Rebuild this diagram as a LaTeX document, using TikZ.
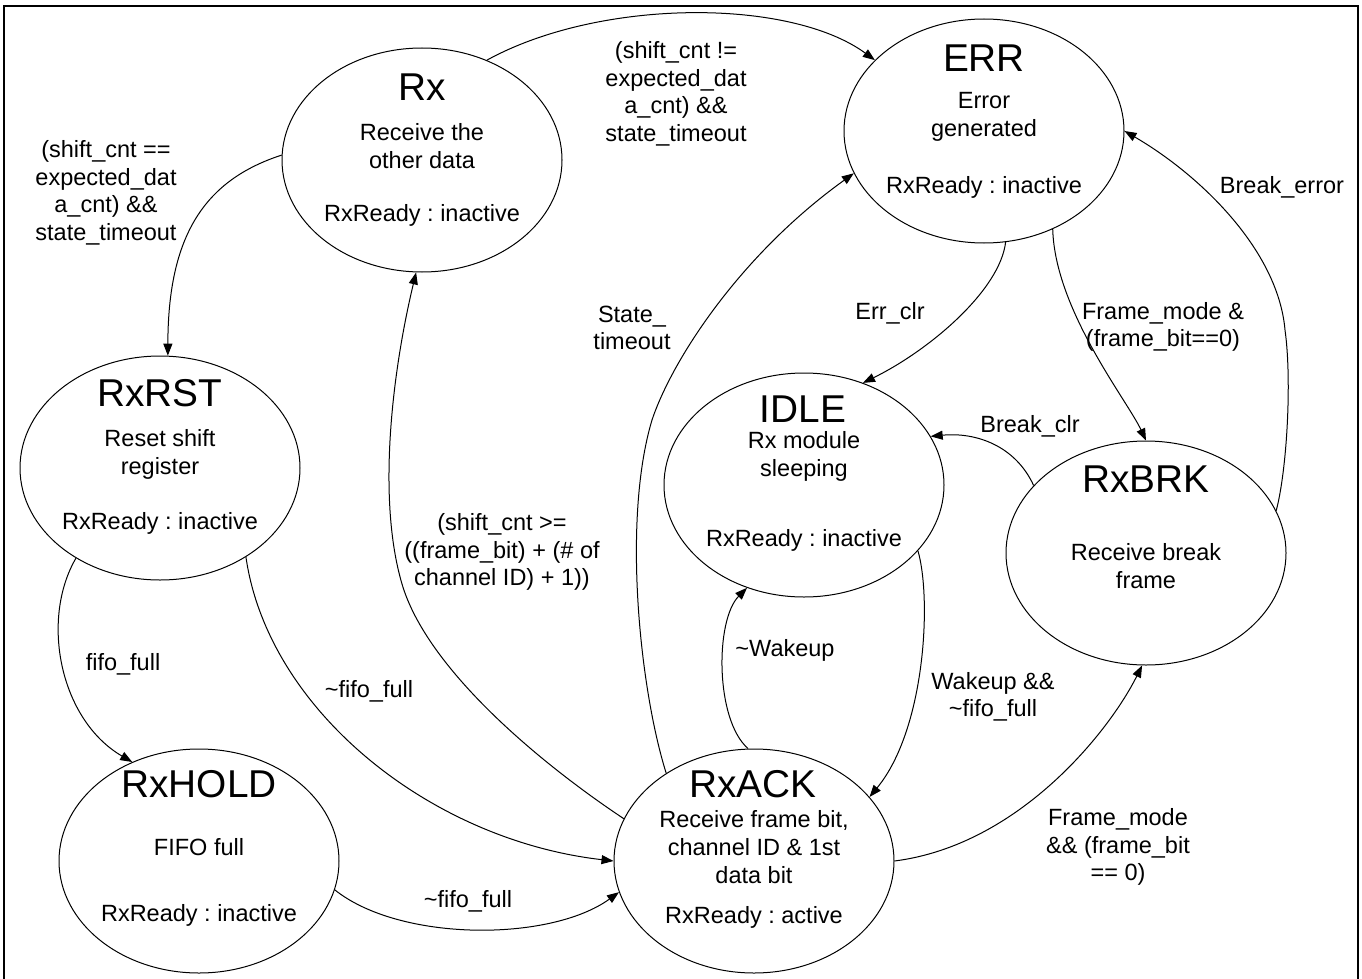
\documentclass[tikz,border=0pt]{standalone}
\usepackage{fontspec}
\setmainfont{Liberation Sans}
\usetikzlibrary{shapes.geometric,arrows.meta}
\frenchspacing
\begin{document}
\begin{tikzpicture}[x=1pt,y=-1pt,
  state/.style={ellipse,draw,line width=1pt,minimum width=280pt,minimum height=224pt,inner sep=0pt},
  ttl/.style={font=\fontsize{38.8}{46}\selectfont,inner sep=0pt},
  txt/.style={font=\fontsize{23.5}{28}\selectfont,align=center,inner sep=0pt},
  lbl/.style={font=\fontsize{23.5}{27.5}\selectfont,align=center,inner sep=0pt},
  arr/.style={line width=1pt,-{Triangle[length=12pt,width=9pt]}}]
\useasboundingbox (0,0) rectangle (1362,979);
\draw[line width=2pt] (4,985) -- (4,6) -- (1358,6) -- (1358,985);

% states
\node[state] (Rx) at (422,160) {};
\node[ttl] (RxT) at (422,87) {Rx};
\node[txt] (RxD) at (422,146) {Receive the\\other data};
\node[txt] (RxR) at (422,215) {RxReady : inactive};

\node[state] (ERR) at (984,131) {};
\node[ttl] (ERRT) at (984,58) {ERR};
\node[txt] (ERRD) at (984,117) {Error\\generated};
\node[txt] (ERRR) at (984,187) {RxReady : inactive};

\node[state] (RxRST) at (160,468) {};
\node[ttl] (RxRSTT) at (160,393) {RxRST};
\node[txt] (RxRSTD) at (160,454) {Reset shift\\register};
\node[txt] (RxRSTR) at (160,523) {RxReady : inactive};

\node[state] (IDLE) at (804,485) {};
\node[ttl] (IDLET) at (803,409) {IDLE};
\node[txt] (IDLED) at (804,456) {Rx module\\sleeping};
\node[txt] (IDLER) at (804,540) {RxReady : inactive};

\node[state] (RxBRK) at (1146,553) {};
\node[ttl] (RxBRKT) at (1146,479) {RxBRK};
\node[txt] (RxBRKD) at (1146,566) {Receive break\\frame};

\node[state] (RxHOLD) at (199,861) {};
\node[ttl] (RxHOLDT) at (199,784) {RxHOLD};
\node[txt] (RxHOLDD) at (199,847) {FIFO full};
\node[txt] (RxHOLDR) at (199,915) {RxReady : inactive};

\node[state] (RxACK) at (754,861) {};
\node[ttl] (RxACKT) at (753,784) {RxACK};
\node[txt] (RxACKD) at (754,847) {Receive frame bit,\\channel ID \& 1st\\data bit};
\node[txt] (RxACKR) at (754,917) {RxReady : active};

% transitions
\draw[arr] (Rx.57) .. controls (600,-2) and (790,-2) .. (ERR.147);
\draw[arr] (Rx.178) .. controls (205,180) and (168,235) .. (RxRST.86);
\draw[arr] (RxACK.162) .. controls (540,763) and (427,669) .. (402,584)
  .. controls (377,499) and (392,373) .. (Rx.267);
\draw[arr] (RxACK.135) .. controls (640,690) and (622,520) .. (652,420)
  .. controls (672,360) and (740,255) .. (ERR.198);
\draw[arr] (ERR.281) .. controls (1000,290) and (930,350) .. (IDLE.60);
\draw[arr] (ERR.305) .. controls (1055,310) and (1127,400) .. (RxBRK.90);
\draw[arr] (RxBRK.18) .. controls (1287,470) and (1292,380) .. (1285,330)
  .. controls (1278,250) and (1200,175) .. (ERR.0);
\draw[arr] (RxBRK.149) .. controls (1015,445) and (975,432) .. (IDLE.21);
\draw[arr] (RxACK.93) .. controls (715,720) and (715,620) .. (IDLE.241);
\draw[arr] (IDLE.330) .. controls (932,600) and (925,730) .. (RxACK.29);
\draw[arr] (RxACK.0) .. controls (1020,845) and (1110,730) .. (RxBRK.268);
\draw[arr] (RxRST.227) .. controls (40,620) and (60,720) .. (RxHOLD.124);
\draw[arr] (RxRST.314) .. controls (268,710) and (430,840) .. (RxACK.180);
\draw[arr] (RxHOLD.348) .. controls (400,942) and (550,942) .. (RxACK.193);

% labels
\node[lbl] (l1) at (676,94) {(shift\_cnt !=\\expected\_dat\\a\_cnt) \&\&\\state\_timeout};
\node[lbl] (l2) at (106,193) {(shift\_cnt ==\\expected\_dat\\a\_cnt) \&\&\\state\_timeout};
\node[lbl] (l3) at (502,552) {(shift\_cnt >=\\((frame\_bit) + (\# of\\channel ID) + 1))};
\node[lbl] (l4) at (632,328) {State\_\\timeout};
\node[lbl] (l5) at (890,313) {Err\_clr};
\node[lbl] (l6) at (1163,327) {Frame\_mode \&\\(frame\_bit==0)};
\node[lbl] (l7) at (1282,187) {Break\_error};
\node[lbl] (l8) at (1030,426) {Break\_clr};
\node[lbl] (l9) at (785,650) {\textasciitilde Wakeup};
\node[lbl] (l10) at (993,697) {Wakeup \&\&\\\textasciitilde fifo\_full};
\node[lbl] (l11) at (1118,847) {Frame\_mode\\\&\& (frame\_bit\\== 0)};
\node[lbl] (l12) at (123,664) {fifo\_full};
\node[lbl] (l13) at (369,691) {\textasciitilde fifo\_full};
\node[lbl] (l14) at (468,901) {\textasciitilde fifo\_full};
\end{tikzpicture}
\end{document}
